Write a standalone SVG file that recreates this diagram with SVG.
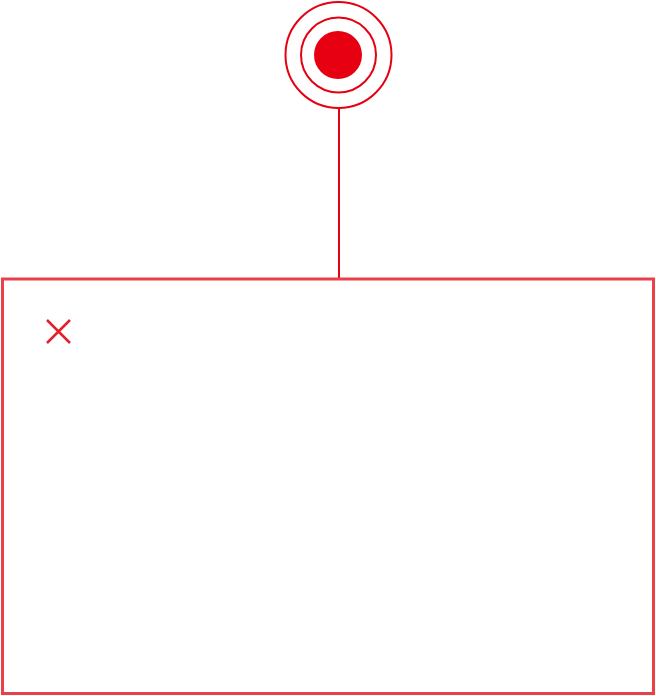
<svg xmlns="http://www.w3.org/2000/svg" width="656" height="696" viewBox="0 0 656 696">
<style>
.ring{fill:none;stroke:#e60012;stroke-width:2}
.conn{stroke:#e60012;stroke-width:2;fill:none}
.box{fill:#fff;stroke:#e8414a;stroke-width:3}
.x{stroke:#e3202a;stroke-width:2.5;fill:none}
</style>
<rect width="656" height="696" fill="#fff"/>
<g id="connectors">
<line class="conn" x1="339" y1="108" x2="339" y2="278"/>
</g>
<g id="target">
<circle class="ring" cx="338.5" cy="55" r="53"/>
<circle class="ring" cx="338.5" cy="55" r="37.5"/>
<circle cx="338" cy="55" r="24" fill="#e60012"/>
</g>
<g id="panel">
<rect class="box" x="2.5" y="279" width="651" height="414.5"/>
<path class="x" d="M47 320 L70 343 M70 320 L47 343"/>
</g>
</svg>
